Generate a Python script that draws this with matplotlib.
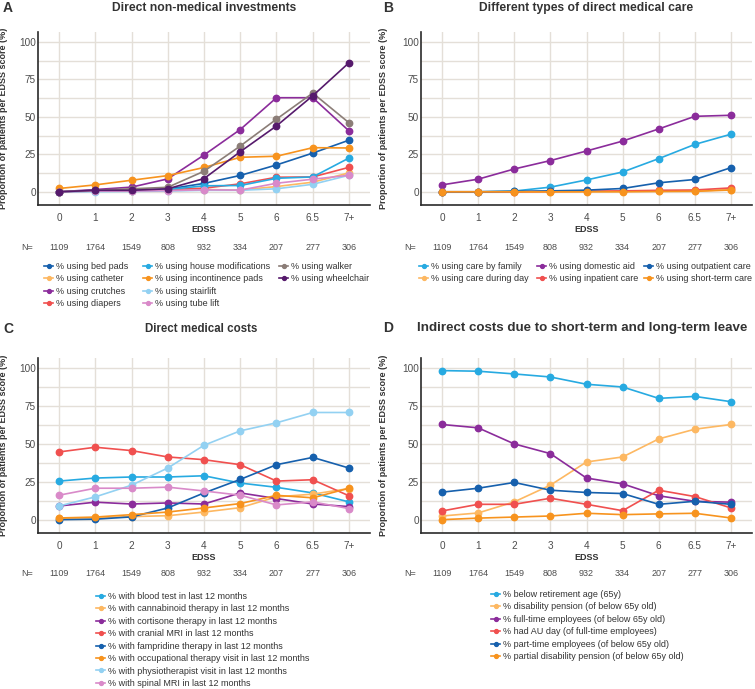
import matplotlib
matplotlib.use("Agg")
import matplotlib.pyplot as plt
from matplotlib.lines import Line2D
from matplotlib.transforms import blended_transform_factory
import numpy as np

plt.rcParams['font.family'] = ['Liberation Sans', 'DejaVu Sans']

categories = ["0", "1", "2", "3", "4", "5", "6", "6.5", "7+"]
n_values = ["1109", "1764", "1549", "808", "932", "334", "207", "277", "306"]

# Panel A
a_labels = ["% using bed pads", "% using catheter", "% using crutches", "% using diapers",
            "% using house modifications", "% using incontinence pads", "% using stairlift",
            "% using tube lift", "% using walker", "% using wheelchair"]
a_bed_pads = [0, 0.8, 0.8, 1.8, 5.6, 10.9, 17.9, 25.8, 34.4]
a_catheter = [0, 0.5, 0.8, 1.0, 1.5, 1.2, 3.5, 6.4, 12.6]
a_crutches = [0, 1.5, 3.1, 8.6, 24.5, 41.5, 62.7, 62.7, 40.6]
a_diapers = [0, 0.5, 1.0, 1.5, 2.4, 5.3, 9.7, 9.9, 16.3]
a_house_mod = [0, 0.5, 1.0, 1.5, 4.0, 4.2, 9.0, 9.9, 22.5]
a_incontinence = [2.2, 4.6, 7.7, 10.8, 16.2, 23.0, 23.7, 29.4, 29.2]
a_stairlift = [0, 0, 0.2, 0.5, 1.0, 1.0, 2.0, 5.0, 11.0]
a_tube_lift = [0, 0.5, 0.5, 0.8, 1.3, 1.1, 5.7, 8.4, 11.0]
a_walker = [0, 1.0, 2.0, 3.0, 13.7, 30.5, 48.4, 65.8, 46.0]
a_wheelchair = [0, 1.0, 1.0, 2.0, 8.8, 26.7, 43.9, 64.0, 86.0]

# Panel B
b_labels = ["% using care by family", "% using care during day", "% using domestic aid",
            "% using inpatient care", "% using outpatient care", "% using short-term care"]
b_family = [0, 0, 0.5, 3.1, 7.9, 13.2, 22.1, 31.6, 38.4]
b_day = [0, 0, 0, 0, 0.2, 0.3, 0.5, 0.5, 1.5]
b_domestic = [4.6, 8.4, 15.2, 20.8, 27.2, 33.8, 41.9, 50.3, 51.0]
b_inpatient = [0, 0, 0, 0.2, 0.4, 0.6, 1.0, 1.2, 2.6]
b_outpatient = [0, 0, 0.3, 0.6, 1.1, 2.2, 6.0, 8.2, 16.1]
b_shortterm = [0, 0, 0, 0, 0, 0, 0.2, 0.3, 1.2]

# Panel C
c_labels = ["% with blood test in last 12 months", "% with cannabinoid therapy in last 12 months",
            "% with cortisone therapy in last 12 months", "% with cranial MRI in last 12 months",
            "% with fampridine therapy in last 12 months",
            "% with occupational therapy visit in last 12 months",
            "% with physiotherapist visit in last 12 months", "% with spinal MRI in last 12 months"]
c_blood = [25.4, 27.4, 28.1, 28.1, 28.9, 24.1, 21.3, 17.6, 11.7]
c_cannabinoid = [1.0, 1.2, 2.0, 2.6, 5.0, 7.9, 15.0, 16.8, 20.5]
c_cortisone = [9.0, 11.5, 10.3, 11.0, 10.3, 17.6, 13.9, 10.3, 8.6]
c_cranial = [44.6, 47.7, 45.5, 41.3, 39.5, 36.2, 25.4, 26.3, 15.7]
c_fampridine = [0, 0.3, 1.8, 7.7, 17.6, 26.5, 36.2, 41.0, 34.0]
c_occupational = [1.1, 1.7, 3.3, 5.0, 7.7, 10.6, 16.0, 14.4, 20.7]
c_physio = [9.0, 15.0, 22.7, 34.0, 49.0, 58.5, 63.8, 70.6, 70.6]
c_spinal = [16.1, 20.7, 20.7, 21.4, 18.9, 16.1, 9.7, 11.7, 7.3]

# Panel D
d_labels = ["% below retirement age (65y)", "% disability pension (of below 65y old)",
            "% full-time employees (of below 65y old)", "% had AU day (of full-time employees)",
            "% part-time employees (of below 65y old)",
            "% partial disability pension (of below 65y old)"]
d_retire = [98.2, 97.8, 96.0, 94.0, 89.2, 87.4, 79.9, 81.2, 77.7]
d_disability = [2.4, 4.4, 11.7, 22.7, 38.0, 41.3, 53.2, 59.6, 62.7]
d_fulltime = [62.7, 60.5, 49.9, 43.5, 27.4, 23.6, 15.7, 12.1, 11.5]
d_auday = [5.7, 10.1, 10.1, 14.1, 10.1, 5.9, 19.4, 15.2, 7.7]
d_parttime = [18.1, 20.7, 24.5, 19.4, 17.9, 17.2, 10.1, 12.1, 10.1]
d_partial = [0, 1.0, 1.7, 2.4, 4.2, 3.3, 3.8, 4.2, 1.1]

C_DBLUE = '#1660ad'
C_LORANGE = '#fdb862'
C_PURPLE = '#8b2c9b'
C_RED = '#f0504f'
C_CYAN = '#27aae1'
C_ORANGE = '#f7931e'
C_LBLUE = '#93d1f2'
C_PINK = '#d98ac9'
C_GRAY = '#8b7d77'
C_DPURPLE = '#561a6c'

panels = [
    ("A", "Direct non-medical investments", a_labels,
     [a_bed_pads, a_catheter, a_crutches, a_diapers, a_house_mod, a_incontinence,
      a_stairlift, a_tube_lift, a_walker, a_wheelchair],
     [C_DBLUE, C_LORANGE, C_PURPLE, C_RED, C_CYAN, C_ORANGE, C_LBLUE, C_PINK, C_GRAY, C_DPURPLE]),
    ("B", "Different types of direct medical care", b_labels,
     [b_family, b_day, b_domestic, b_inpatient, b_outpatient, b_shortterm],
     [C_CYAN, C_LORANGE, C_PURPLE, C_RED, C_DBLUE, C_ORANGE]),
    ("C", "Direct medical costs", c_labels,
     [c_blood, c_cannabinoid, c_cortisone, c_cranial, c_fampridine, c_occupational, c_physio, c_spinal],
     [C_CYAN, C_LORANGE, C_PURPLE, C_RED, C_DBLUE, C_ORANGE, C_LBLUE, C_PINK]),
    ("D", "Indirect costs due to short-term and long-term leave", d_labels,
     [d_retire, d_disability, d_fulltime, d_auday, d_parttime, d_partial],
     [C_CYAN, C_LORANGE, C_PURPLE, C_RED, C_DBLUE, C_ORANGE]),
]

W, H = 755, 689
fig = plt.figure(figsize=(W / 100, H / 100), dpi=100)

def fx(px):
    return px / W

def fy(py):
    return 1 - py / H

# pixel boxes: left, right, top, bottom
axes_boxes = {
    "A": (38, 370, 32, 205),
    "B": (421, 752, 32, 205),
    "C": (38, 370, 358, 533),
    "D": (421, 752, 358, 533),
}
# title (center x, center y, size), letter (left x), ylabel x, EDSS y, N y
text_pos = {
    "A": dict(title=(204, 8, 8.7), letter=3, ylab=8, edss=230, n=247),
    "B": dict(title=(586, 8, 8.7), letter=383, ylab=388, edss=230, n=247),
    "C": dict(title=(201, 329, 8.3), letter=3, ylab=8, edss=558, n=574),
    "D": dict(title=(582, 328, 9.6), letter=383, ylab=388, edss=558, n=574),
}
# legend columns: (handle-left x, top y, indices)
legend_cols = {
    "A": [(44, 262, [0, 1, 2, 3]), (143, 262, [4, 5, 6, 7]), (279, 262, [8, 9])],
    "B": [(419, 262, [0, 1]), (537, 262, [2, 3]), (644, 262, [4, 5])],
    "C": [(96, 592, list(range(8)))],
    "D": [(491, 590, list(range(6)))],
}

x = np.arange(len(categories))
grid_c = '#e4dfd8'
text_c = '#333333'
tick_c = '#4d4d4d'
FS = 6.5

for letter, title, labels, series, colors in panels:
    l, r, t, b = axes_boxes[letter]
    ax = fig.add_axes([fx(l), fy(b), fx(r) - fx(l), fy(t) - fy(b)])
    for vals, col, lab in zip(series, colors, labels):
        ax.plot(x, vals, '-o', color=col, lw=1.2, ms=4.6, label=lab)
    ax.set_xlim(-0.58, 8.58)
    ax.set_ylim(-8.8, 106.5)
    ax.set_xticks(x)
    ax.set_xticklabels(categories)
    ax.set_yticks([0, 25, 50, 75, 100])
    ax.set_yticks([12.5, 37.5, 62.5, 87.5], minor=True)
    ax.grid(True, which='major', color=grid_c, lw=1.0)
    ax.grid(True, which='minor', axis='y', color=grid_c, lw=1.0)
    ax.set_axisbelow(True)
    ax.tick_params(axis='x', which='both', length=0, labelsize=7.2, labelcolor=tick_c, pad=6)
    ax.tick_params(axis='y', which='both', length=0, labelsize=7.2, labelcolor=tick_c, pad=1.5)
    for s in ['top', 'right']:
        ax.spines[s].set_visible(False)
    for s in ['left', 'bottom']:
        ax.spines[s].set_color('#2a2a2a')
        ax.spines[s].set_linewidth(1.2)

    tp = text_pos[letter]
    ax.set_ylabel("Proportion of patients per EDSS score (%)", fontsize=FS,
                  fontweight='bold', color=text_c)
    ax.yaxis.set_label_coords((tp['ylab'] - l) / (r - l), 0.5)

    trans = blended_transform_factory(ax.transData, ax.transAxes)
    ey = (b - tp['edss']) / (b - t)
    ax.text(4, ey, "EDSS", transform=trans, ha='center', va='center',
            fontsize=FS, fontweight='bold', color=text_c)
    ny = (b - tp['n']) / (b - t)
    ax.text(-0.89, ny, "N=", transform=trans, ha='center', va='center',
            fontsize=FS, color=tick_c)
    for xi, n in zip(x, n_values):
        ax.text(xi, ny, n, transform=trans, ha='center', va='center',
                fontsize=FS, color=tick_c)

    tx, tyy, tsz = tp['title']
    fig.text(fx(tx), fy(tyy), title, fontsize=tsz,
             fontweight='bold', color=text_c, ha='center', va='center')
    fig.text(fx(tp['letter']), fy(tyy), letter, fontsize=10,
             fontweight='bold', color=text_c, ha='left', va='center')

    for hx, ty, idxs in legend_cols[letter]:
        handles = [Line2D([], [], color=colors[i], marker='o', ms=2.8, lw=1.2) for i in idxs]
        labs = [labels[i] for i in idxs]
        fig.legend(handles, labs, loc='upper left', bbox_to_anchor=(fx(hx), fy(ty)),
                   frameon=False, fontsize=FS, handlelength=1.0, handletextpad=0.3,
                   labelspacing=0.38, borderaxespad=0, borderpad=0, labelcolor=text_c)

fig.savefig("out.png", dpi=100)
